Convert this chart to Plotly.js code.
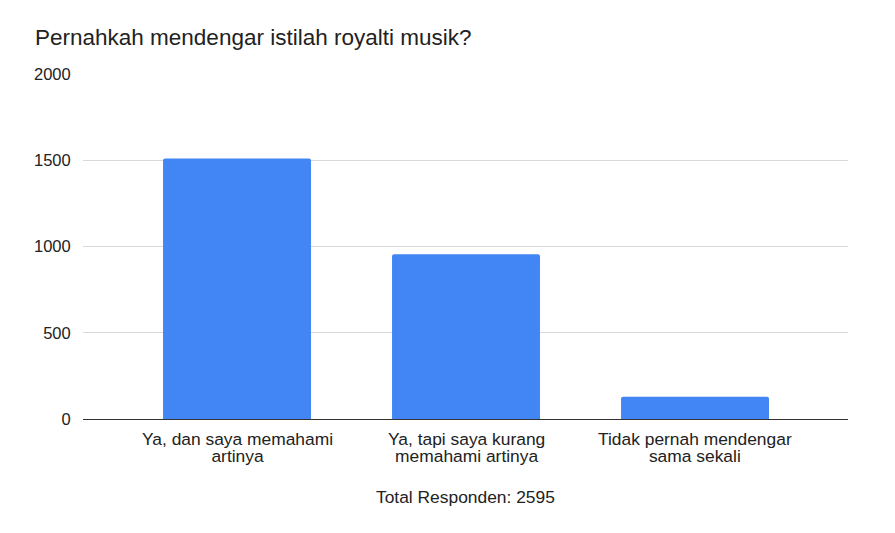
<!DOCTYPE html>
<html>
<head>
<meta charset="utf-8">
<script src="https://cdn.plot.ly/plotly-3.0.1.min.js"></script>
<style>html,body{margin:0;padding:0;background:#fff;}#chart{width:895px;height:533px;}</style>
</head>
<body>
<div id="chart"></div>
<script>
const categories = [
  ["Ya, dan saya memahami", "artinya"],
  ["Ya, tapi saya kurang", "memahami artinya"],
  ["Tidak pernah mendengar", "sama sekali"]
];
const values = [1511, 955, 129];
const yTicks = [0, 500, 1000, 1500, 2000];
const chartTitle = "Pernahkah mendengar istilah royalti musik?";
const xTitle = "Total Responden: 2595";

const idx = categories.map((c, i) => i);
const FONT = 'Liberation Sans, Arial, sans-serif';
const TXT = '#222';

const annotations = categories.map((lines, i) => ({
  x: i, xref: 'x', y: 0, yref: 'paper',
  text: lines.map(l => '<span style="font-size:17.4px">' + l + '</span>').join('<br>'),
  showarrow: false,
  xanchor: 'center', yanchor: 'top',
  yshift: -8,
  font: {family: FONT, size: 13, color: TXT}
}));
annotations.push({
  x: 0.5, xref: 'paper', y: 0, yref: 'paper',
  text: xTitle, showarrow: false,
  xanchor: 'center', yanchor: 'middle',
  yshift: -78,
  font: {family: FONT, size: 17.4, color: TXT}
});

const trace = {
  type: 'bar',
  x: idx,
  y: values,
  marker: {color: '#4285F4'},
  hoverinfo: 'none'
};
const layout = {
  width: 895, height: 533,
  margin: {l: 83, r: 47, t: 73.5, b: 113.7},
  paper_bgcolor: '#fff', plot_bgcolor: '#fff',
  font: {family: FONT, size: 17, color: TXT},
  title: {text: chartTitle, x: 35/895, xanchor: 'left', xref: 'container', y: 1 - 37.5/533, yanchor: 'middle', yref: 'container', font: {family: FONT, size: 22.5, color: TXT}},
  bargap: 0.354,
  barcornerradius: 2,
  showlegend: false,
  annotations: annotations,
  xaxis: {
    range: [-0.6725, 2.668],
    tickvals: idx,
    showticklabels: false,
    showgrid: false, zeroline: false,
    showline: false, ticks: ''
  },
  yaxis: {
    range: [0, 2001],
    tickvals: yTicks,
    showgrid: true, gridcolor: '#d9d9d9', gridwidth: 1,
    zeroline: true, zerolinecolor: '#333', zerolinewidth: 1,
    ticks: 'outside', ticklen: 8, tickcolor: 'rgba(0,0,0,0)',
    tickfont: {family: FONT, size: 16.5, color: TXT}
  }
};
Plotly.newPlot('chart', [trace], layout, {displayModeBar: false, staticPlot: true});
</script>
</body>
</html>
